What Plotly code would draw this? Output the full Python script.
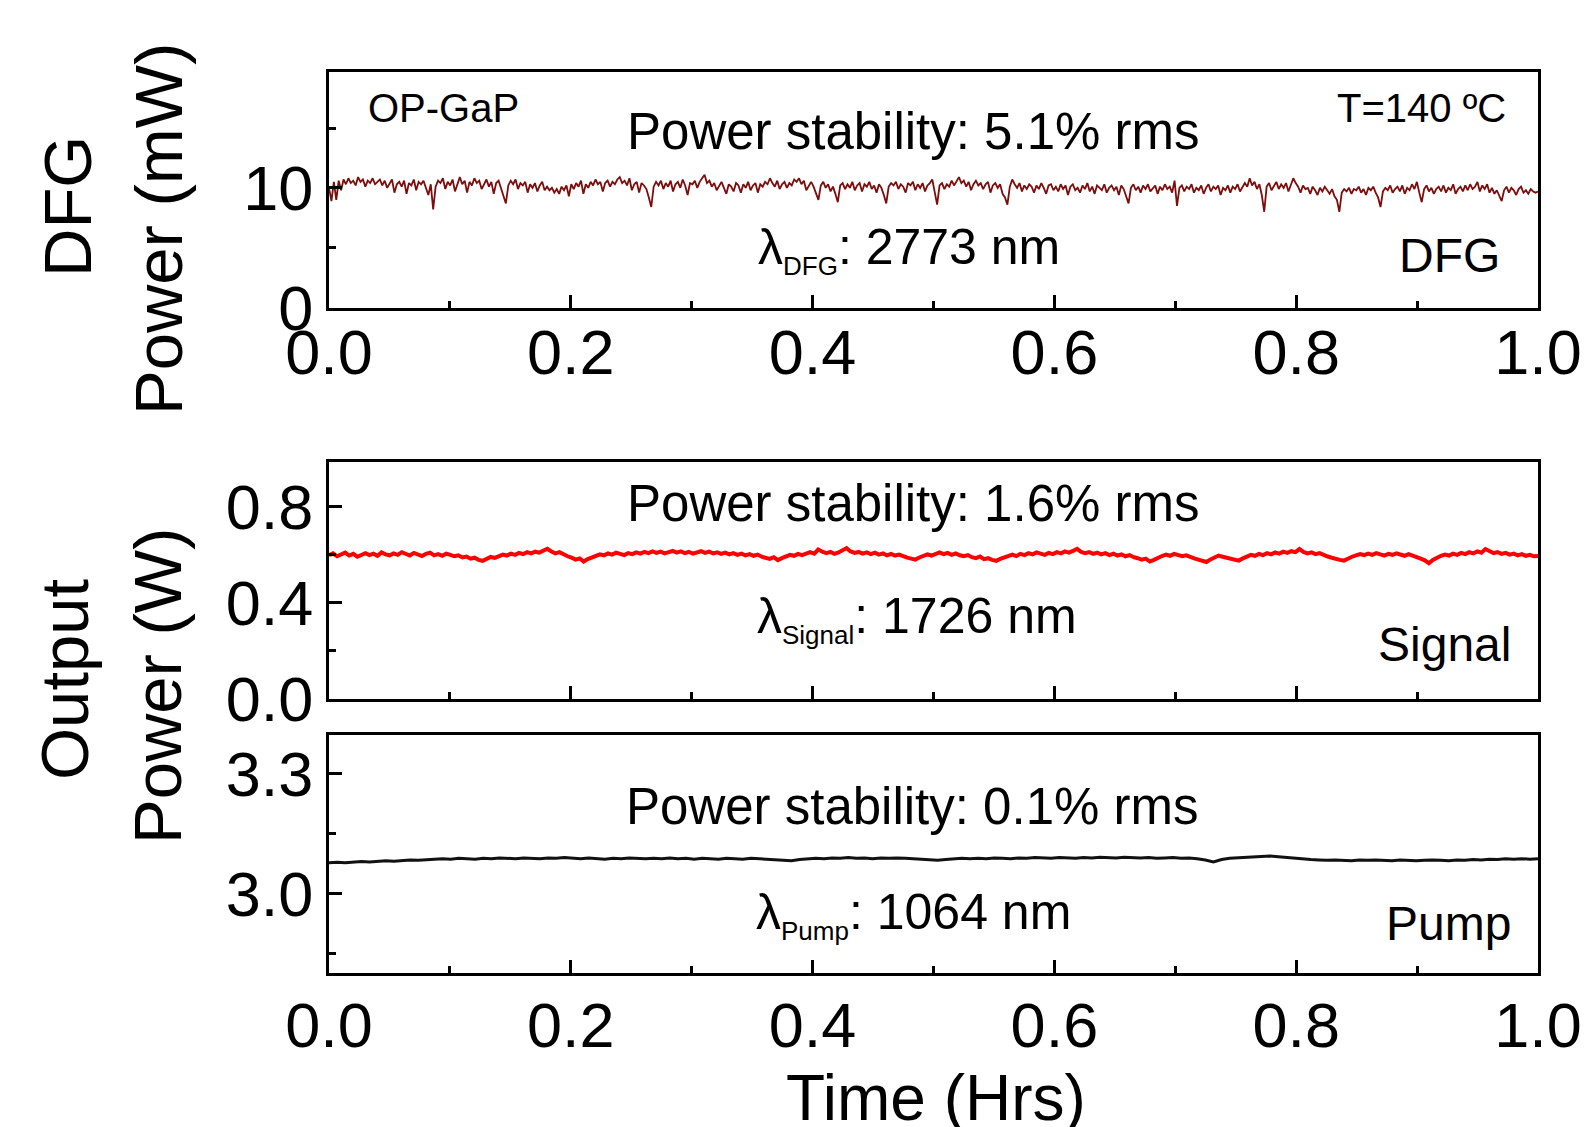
import plotly.graph_objects as go

# ---------------- data ----------------
dfg_power_mw = [
    10.0, 8.9, 10.5, 9.0, 10.6, 9.8, 10.7, 10.3, 10.8, 10.4,
    10.6, 10.2, 10.9, 10.5, 10.7, 10.1, 10.6, 10.4, 10.8, 10.3,
    10.5, 10.7, 10.2, 10.6, 10.0, 10.4, 10.7, 9.6, 10.3, 10.5,
    10.1, 10.6, 9.5, 10.4, 10.2, 10.7, 9.8, 10.5, 10.3, 10.6,
    10.0, 9.4, 10.3, 8.2, 10.1, 10.6, 10.4, 10.8, 9.9, 10.5,
    10.2, 10.7, 9.7, 10.4, 10.9, 10.3, 10.6, 9.6, 10.5, 10.2,
    10.8, 10.4, 10.6, 9.9, 10.3, 10.7, 10.1, 10.5, 9.5, 10.4,
    10.6, 10.0, 9.3, 8.7, 10.2, 10.6, 10.3, 10.7, 9.9, 10.4,
    10.2, 10.5, 9.6, 10.3, 10.0, 10.4, 9.7, 10.2, 10.5, 9.8,
    10.1, 9.8, 10.0, 9.6, 9.9, 9.5, 10.1, 9.8, 10.2, 9.3,
    10.3, 9.9, 10.4, 10.1, 10.6, 9.5, 10.3, 10.0, 10.5, 10.2,
    10.7, 10.3, 10.5, 9.7, 10.4, 10.6, 10.1, 10.5, 10.3, 10.7,
    10.9, 10.4, 10.6, 10.2, 10.8, 9.8, 10.3, 10.5, 9.6, 10.4,
    10.2, 9.9, 9.2, 8.4, 10.1, 10.5, 10.2, 10.6, 9.9, 10.4,
    10.1, 10.6, 9.7, 10.3, 10.5, 10.0, 10.7, 10.2, 9.4, 10.4,
    10.3, 10.6, 10.0, 10.5, 10.8, 11.1, 10.4, 10.6, 10.1, 10.4,
    9.8, 10.2, 10.5, 10.0, 9.5, 10.3, 10.1, 9.7, 10.4, 10.2,
    9.6, 10.3, 10.0, 10.5, 9.8, 10.2, 10.4, 9.6, 10.3, 10.1,
    10.5, 10.3, 10.8, 10.4, 10.1, 10.6, 9.9, 10.3, 10.5, 10.0,
    10.4, 10.2, 10.7, 10.5, 10.8, 10.3, 10.6, 9.8, 10.2, 10.5,
    10.1, 9.6, 9.0, 10.2, 10.5, 10.0, 10.3, 9.7, 10.1, 9.5,
    8.8, 10.2, 10.4, 9.9, 10.3, 10.0, 10.5, 9.8, 10.2, 10.4,
    9.7, 10.3, 10.1, 10.5, 9.9, 10.2, 9.6, 10.3, 10.0, 9.4,
    8.7, 10.1, 10.4, 10.2, 10.5, 9.9, 10.3, 10.1, 9.6, 10.4,
    10.2, 10.5, 9.8, 10.3, 10.0, 10.4, 9.7, 10.2, 10.4, 10.7,
    9.6, 8.6, 10.2, 10.4, 9.9, 10.3, 10.1, 10.6, 10.2, 10.5,
    10.9, 10.4, 10.6, 10.1, 10.5, 9.8, 10.3, 10.6, 10.2, 10.4,
    9.9, 10.3, 10.5, 9.6, 10.2, 10.4, 10.0, 10.3, 9.5, 9.2,
    8.6, 10.1, 10.7, 10.3, 10.0, 10.4, 9.7, 10.2, 9.9, 10.3,
    10.1, 9.6, 10.2, 9.9, 10.4, 10.0, 9.5, 10.2, 10.3, 9.8,
    10.1, 9.7, 10.3, 9.9, 10.2, 9.4, 10.1, 10.3, 9.8, 10.0,
    9.6, 10.2, 9.9, 10.4, 9.7, 10.1, 9.5, 10.2, 10.0, 9.8,
    10.3, 9.6, 10.0, 10.2, 9.8, 10.1, 9.4, 10.2, 9.9, 9.3,
    8.7, 10.0, 10.3, 9.8, 10.1, 9.6, 10.2, 9.9, 10.3, 9.7,
    10.0, 10.2, 9.5, 10.1, 9.8, 10.3, 9.9, 10.1, 9.6, 10.6,
    8.5, 10.0, 10.2, 9.7, 10.1, 9.9, 10.3, 9.6, 10.0, 9.8,
    10.2, 9.5, 10.0, 10.3, 9.7, 10.1, 9.9, 10.2, 9.4, 10.0,
    9.8, 10.2, 9.6, 10.1, 9.9, 10.3, 9.7, 10.0, 10.4, 10.1,
    10.8, 10.2, 10.5, 9.9, 10.3, 9.4, 8.0, 10.1, 10.4, 9.8,
    10.2, 10.5, 9.9, 10.3, 10.0, 10.4, 9.7, 10.3, 10.8, 10.4,
    10.1, 9.6, 10.2, 9.9, 10.0, 9.5, 10.1, 9.8, 9.4, 10.0,
    9.7, 10.1, 9.8, 9.5, 9.9, 9.3, 9.0, 8.0, 9.6, 9.9,
    9.7, 10.0, 9.5, 9.9, 9.8, 10.1, 9.6, 9.9, 9.4, 10.0,
    9.8, 10.1, 9.6, 9.2, 8.4, 9.7, 10.0, 9.8, 10.2, 9.6,
    9.9, 10.1, 9.7, 10.2, 9.5, 10.0, 9.8, 10.3, 9.9, 10.5,
    9.6, 8.8, 9.9, 10.2, 9.7, 10.0, 9.5, 9.9, 10.1, 9.7,
    10.2, 9.6, 10.0, 9.8, 10.3, 9.5, 9.9, 10.1, 9.7, 10.2,
    9.8, 10.3, 9.9, 10.1, 10.5, 9.7, 10.2, 9.9, 10.3, 9.6,
    10.0, 9.5, 9.8, 9.3, 8.9, 9.8, 10.1, 9.6, 10.0, 9.8,
    9.4, 9.9, 10.1, 9.6, 9.8, 9.5, 9.9, 9.7, 9.6, 9.7,
]

signal_power_w = [
    0.598, 0.606, 0.594, 0.603, 0.609, 0.597, 0.604, 0.592, 0.601, 0.607,
    0.599, 0.605, 0.596, 0.610, 0.602, 0.598, 0.606, 0.600, 0.611, 0.603,
    0.597, 0.608, 0.601, 0.595, 0.604, 0.609, 0.598, 0.603, 0.596, 0.605,
    0.600, 0.594, 0.598, 0.589, 0.593, 0.584, 0.588, 0.579, 0.575, 0.583,
    0.591, 0.587, 0.596, 0.601, 0.597, 0.605, 0.600, 0.608, 0.603, 0.611,
    0.606, 0.613, 0.609, 0.617, 0.625, 0.614, 0.606, 0.611, 0.601, 0.594,
    0.588, 0.580, 0.585, 0.572, 0.582, 0.590, 0.597, 0.602, 0.598, 0.606,
    0.601, 0.609, 0.604, 0.599, 0.607, 0.603, 0.610, 0.605, 0.612, 0.607,
    0.614, 0.608, 0.613, 0.606, 0.611, 0.616, 0.609, 0.614, 0.607, 0.612,
    0.605, 0.611, 0.615, 0.608, 0.613, 0.606, 0.610, 0.604, 0.609, 0.602,
    0.607, 0.600, 0.605, 0.598, 0.603, 0.596, 0.601, 0.592, 0.587, 0.583,
    0.590, 0.578, 0.586, 0.594, 0.600, 0.596, 0.604, 0.599, 0.607, 0.611,
    0.605, 0.622, 0.613, 0.607, 0.612, 0.604, 0.610, 0.617, 0.628, 0.614,
    0.608, 0.612, 0.605, 0.610, 0.603, 0.609, 0.601, 0.606, 0.598, 0.604,
    0.597, 0.601, 0.593, 0.588, 0.584, 0.580, 0.589, 0.596, 0.602, 0.597,
    0.605, 0.610, 0.603, 0.608, 0.600, 0.606, 0.598, 0.594, 0.599, 0.590,
    0.586, 0.593, 0.582, 0.586, 0.579, 0.575, 0.583, 0.590, 0.597, 0.601,
    0.595, 0.604, 0.599, 0.607, 0.602, 0.610, 0.605, 0.600, 0.608, 0.603,
    0.611, 0.606, 0.614, 0.609, 0.616, 0.625, 0.612, 0.607, 0.611, 0.604,
    0.609, 0.602, 0.607, 0.599, 0.605, 0.597, 0.602, 0.594, 0.599, 0.590,
    0.586, 0.580, 0.584, 0.572, 0.579, 0.588, 0.595, 0.601, 0.596, 0.604,
    0.599, 0.594, 0.598, 0.590, 0.585, 0.580, 0.576, 0.570, 0.581, 0.590,
    0.597, 0.592, 0.587, 0.583, 0.579, 0.576, 0.585, 0.593, 0.600, 0.596,
    0.604, 0.599, 0.607, 0.602, 0.610, 0.605, 0.613, 0.608, 0.615, 0.611,
    0.624, 0.612, 0.606, 0.610, 0.603, 0.607, 0.598, 0.593, 0.588, 0.582,
    0.579, 0.576, 0.585, 0.592, 0.598, 0.603, 0.599, 0.605, 0.600, 0.607,
    0.602, 0.597, 0.604, 0.600, 0.606, 0.601, 0.596, 0.603, 0.598, 0.590,
    0.584, 0.577, 0.565, 0.579, 0.588, 0.596, 0.601, 0.597, 0.605, 0.600,
    0.608, 0.603, 0.611, 0.606, 0.614, 0.609, 0.624, 0.613, 0.607, 0.611,
    0.604, 0.608, 0.601, 0.605, 0.598, 0.603, 0.596, 0.600, 0.594, 0.595,
]

pump_power_w = [
    3.077, 3.078, 3.077, 3.079, 3.080, 3.079, 3.081, 3.082, 3.081, 3.083,
    3.084, 3.083, 3.085, 3.086, 3.087, 3.086, 3.088, 3.087, 3.086, 3.088,
    3.087, 3.089, 3.088, 3.087, 3.089, 3.088, 3.087, 3.089, 3.088, 3.090,
    3.088, 3.087, 3.089, 3.088, 3.086, 3.088, 3.087, 3.089, 3.088, 3.087,
    3.088, 3.087, 3.089, 3.087, 3.088, 3.086, 3.088, 3.087, 3.086, 3.088,
    3.087, 3.086, 3.088, 3.087, 3.085, 3.084, 3.083, 3.082, 3.085, 3.087,
    3.088, 3.087, 3.089, 3.088, 3.090, 3.088, 3.089, 3.087, 3.089, 3.088,
    3.089, 3.088, 3.087, 3.085, 3.084, 3.083, 3.085, 3.086, 3.088, 3.087,
    3.088, 3.087, 3.089, 3.088, 3.087, 3.089, 3.088, 3.090, 3.089, 3.088,
    3.090, 3.089, 3.088, 3.090, 3.089, 3.091, 3.090, 3.089, 3.091, 3.090,
    3.089, 3.090, 3.088, 3.089, 3.090, 3.088, 3.089, 3.087, 3.084, 3.079,
    3.085, 3.088, 3.089, 3.090, 3.092, 3.093, 3.094, 3.092, 3.090, 3.088,
    3.086, 3.085, 3.084, 3.083, 3.084, 3.083, 3.082, 3.084, 3.083, 3.084,
    3.083, 3.082, 3.084, 3.083, 3.082, 3.083, 3.084, 3.083, 3.082, 3.084,
    3.083, 3.085, 3.084, 3.086, 3.085, 3.087, 3.086, 3.087, 3.086, 3.087,
]


# sample times over the one-hour run (evenly sampled)
def sample_times(n):
    return [i / (n - 1) for i in range(n)]


t_dfg = sample_times(len(dfg_power_mw))
t_signal = sample_times(len(signal_power_w))
t_pump = sample_times(len(pump_power_w))

x_tick_vals = [0, 0.2, 0.4, 0.6, 0.8, 1.0]
x_tick_labels = ["0.0", "0.2", "0.4", "0.6", "0.8", "1.0"]

# ---------------- layout helpers ----------------
W, H = 1586, 1127
ML, MR = 329, 48
PW = W - ML - MR
FONT = "Liberation Sans, Arial, sans-serif"


def px(x):
    return (x - ML) / PW


def py(y):
    return 1 - y / H


fig = go.Figure()
fig.add_trace(go.Scatter(x=t_dfg, y=dfg_power_mw, mode="lines",
                         line=dict(color="#7d0d0d", width=1.8),
                         xaxis="x", yaxis="y", showlegend=False))
fig.add_trace(go.Scatter(x=t_signal, y=signal_power_w, mode="lines",
                         line=dict(color="#ff0000", width=4),
                         xaxis="x2", yaxis="y2", showlegend=False))
fig.add_trace(go.Scatter(x=t_pump, y=pump_power_w, mode="lines",
                         line=dict(color="#111111", width=3),
                         xaxis="x3", yaxis="y3", showlegend=False))

common = dict(showline=True, linewidth=3, linecolor="black", mirror=True,
              ticks="inside", ticklen=13, tickwidth=2.5, tickcolor="black",
              showgrid=False, zeroline=False, automargin=False,
              tickfont=dict(family=FONT, size=63, color="black"))

xcommon = dict(common, range=[0, 1], tickvals=x_tick_vals,
               ticktext=x_tick_labels,
               minor=dict(ticks="inside", ticklen=7, tickwidth=2.5,
                          tickcolor="black", dtick=0.1, tick0=0))

dom_top = [py(307.5), py(71.8)]
dom_mid = [py(699.0), py(462.3)]
dom_bot = [py(973.3), py(735.4)]

fig.update_layout(
    width=W, height=H,
    margin=dict(l=ML, r=MR, t=0, b=0, autoexpand=False),
    paper_bgcolor="white", plot_bgcolor="white",
    font=dict(family=FONT, color="black"),
    xaxis=dict(xcommon, anchor="y", domain=[0, 1], ticklabelstandoff=-12),
    xaxis2=dict(xcommon, anchor="y2", domain=[0, 1], showticklabels=False),
    xaxis3=dict(xcommon, anchor="y3", domain=[0, 1], ticklabelstandoff=-5),
    yaxis=dict(common, anchor="x", domain=dom_top, range=[0, 19.7],
               dtick=10, tick0=0,
               minor=dict(ticks="inside", ticklen=7, tickwidth=2.5,
                          tickcolor="black", dtick=5)),
    yaxis2=dict(common, anchor="x2", domain=dom_mid, range=[0, 0.985],
                dtick=0.4, tick0=0, tickformat=".1f",
                minor=dict(ticks="inside", ticklen=7, tickwidth=2.5,
                           tickcolor="black", dtick=0.2)),
    yaxis3=dict(common, anchor="x3", domain=dom_bot, range=[2.8, 3.396],
                dtick=0.3, tick0=0, tickformat=".1f",
                minor=dict(ticks="inside", ticklen=7, tickwidth=2.5,
                           tickcolor="black", dtick=0.15)),
)

ann = []


def text(t, x, y, size, xanchor="center", angle=0):
    ann.append(dict(text=t, x=px(x), y=py(y), xref="paper", yref="paper",
                    xanchor=xanchor, yanchor="middle", showarrow=False,
                    textangle=angle,
                    font=dict(family=FONT, size=size, color="black")))


def lam(sub, rest):
    return ("λ<sub><span style='font-size:26px'>" + sub + "</span></sub>"
            + rest)


# top panel
text("OP-GaP", 366, 108, 40, "left")
text("T=140 ºC", 1508, 108, 40, "right")
text("Power stability: 5.1% rms", 913, 132, 51)
text(lam("DFG", ": 2773 nm"), 909, 250, 50)
text("DFG", 1502, 256, 48, "right")
# middle panel
text("Power stability: 1.6% rms", 913, 504, 51)
text(lam("Signal", ": 1726 nm"), 917, 619, 50)
text("Signal", 1513, 644, 48, "right")
# bottom panel
text("Power stability: 0.1% rms", 912, 806, 51)
text(lam("Pump", ": 1064 nm"), 913, 915, 50)
text("Pump", 1513, 923, 48, "right")
# axis titles (each line placed where the reference has it)
text("DFG", 68, 207, 67, angle=-90)
text("Power (mW)", 159, 229, 67, angle=-90)
text("Output", 64, 679, 67, angle=-90)
text("Power (W)", 157, 686, 67, angle=-90)
text("Time (Hrs)", 936, 1098, 64)

fig.update_layout(annotations=ann)
fig.write_html("out.html")
